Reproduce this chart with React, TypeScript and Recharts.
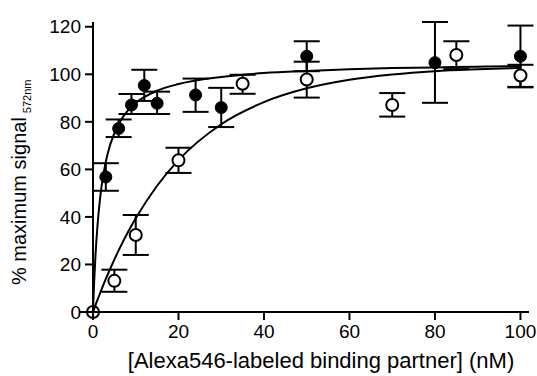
import React from "react";
import {
  ComposedChart,
  Line,
  Scatter,
  XAxis,
  YAxis,
  ErrorBar,
  Label,
} from "recharts";

// Measured points: filled circles
const concFilled = [3, 6, 9, 12, 15, 24, 30, 50, 80, 100];
const signalFilled = [56.8, 77.2, 87.1, 95.3, 87.8, 91.3, 86.0, 107.6, 104.9, 107.6];
const lowFilled = [51.0, 73.6, 83.3, 88.8, 83.3, 84.2, 77.8, 101.3, 88.0, 94.7];
const highFilled = [62.6, 81.0, 91.7, 101.9, 92.7, 98.2, 94.3, 113.9, 122.0, 120.5];

// Measured points: open circles
const concOpen = [0, 5, 10, 20, 35, 50, 70, 85, 100];
const signalOpen = [0, 13.1, 32.4, 63.8, 96.0, 97.8, 87.1, 108.1, 99.5];
const lowOpen = [0, 8.5, 24.0, 58.5, 91.8, 90.2, 82.2, 102.2, 94.5];
const highOpen = [0, 17.8, 40.8, 69.1, 99.8, 105.3, 92.1, 113.9, 104.0];

// Fitted curves
const curveConc = [0, 0.25, 0.5, 1, 1.5, 2, 3, 4, 6, 8, 10, 15, 20, 30, 40, 50, 60, 70, 80, 90, 100];
const fitFilled = [0, 11.7, 21.1, 35.2, 45.2, 52.8, 63.3, 70.3, 79.1, 84.4, 87.9, 93.1, 95.9, 98.9, 100.5, 101.4, 102.1, 102.6, 102.9, 103.2, 103.4];
const fitOpen = [0, 1.2, 2.5, 4.9, 7.2, 9.5, 13.9, 18.1, 25.9, 33.0, 39.4, 53.1, 63.9, 79.0, 88.3, 94.1, 97.7, 99.9, 101.3, 102.1, 102.7];

const xTicks = [0, 20, 40, 60, 80, 100];
const yTicks = [0, 20, 40, 60, 80, 100, 120];

const FONT = "'Liberation Sans', Arial, Helvetica, sans-serif";

const filledData = concFilled.map((x, i) => ({
  x,
  y: signalFilled[i],
  err: [signalFilled[i] - lowFilled[i], highFilled[i] - signalFilled[i]],
}));
const openData = concOpen.map((x, i) => ({
  x,
  y: signalOpen[i],
  err: [signalOpen[i] - lowOpen[i], highOpen[i] - signalOpen[i]],
}));
const fitFilledData = curveConc.map((x, i) => ({ x, y: fitFilled[i] }));
const fitOpenData = curveConc.map((x, i) => ({ x, y: fitOpen[i] }));

const FilledDot = (props: any) => {
  const { cx, cy } = props;
  return <circle cx={cx} cy={cy} r={6} fill="#000" stroke="#000" strokeWidth={1} />;
};
const OpenDot = (props: any) => {
  const { cx, cy, payload } = props;
  const atOrigin = payload && payload.x === 0;
  return <circle cx={cx} cy={cy} r={6} fill={atOrigin ? "none" : "#fff"} stroke="#000" strokeWidth={2} />;
};

const XTitle = () => (
  <text x={321} y={368} textAnchor="middle" fontSize={22} fontFamily={FONT} fill="#000">
    [Alexa546-labeled binding partner] (nM)
  </text>
);

const YTitle = () => (
  <text transform="translate(26,285) rotate(-90)" x={0} y={0} textAnchor="start" fontFamily={FONT} fill="#000">
    <tspan fontSize={20}>% maximum signal</tspan>
    <tspan fontSize={11} dx={4} dy={5}>572nm</tspan>
  </text>
);

export default function App() {
  return (
    <div style={{ position: "absolute", left: 0, top: 0, background: "#fff" }}>
      <ComposedChart
        width={537}
        height={376}
        margin={{ top: 22, right: 8, bottom: 34, left: 0 }}
      >
        <XAxis
          type="number"
          dataKey="x"
          domain={[0, 102]}
          ticks={xTicks}
          height={30}
          tickSize={8}
          tickMargin={5}
          axisLine={{ stroke: "#000", strokeWidth: 2 }}
          tickLine={{ stroke: "#000", strokeWidth: 2 }}
          tick={{ fill: "#000", fontSize: 19, fontFamily: FONT }}
        >
          <Label content={<XTitle />} />
        </XAxis>
        <YAxis
          type="number"
          dataKey="y"
          domain={[0, 120]}
          ticks={yTicks}
          width={93}
          tickSize={8}
          tickMargin={4}
          axisLine={{ stroke: "#000", strokeWidth: 2 }}
          tickLine={{ stroke: "#000", strokeWidth: 2 }}
          tick={{ fill: "#000", fontSize: 19, fontFamily: FONT }}
        >
          <Label content={<YTitle />} />
        </YAxis>
        <Line
          data={fitFilledData}
          dataKey="y"
          type="monotone"
          stroke="#000"
          strokeWidth={2}
          dot={false}
          activeDot={false}
          isAnimationActive={false}
        />
        <Line
          data={fitOpenData}
          dataKey="y"
          type="monotone"
          stroke="#000"
          strokeWidth={2}
          dot={false}
          activeDot={false}
          isAnimationActive={false}
        />
        <Scatter data={filledData} dataKey="y" shape={<FilledDot />} isAnimationActive={false}>
          <ErrorBar dataKey="err" direction="y" width={13} stroke="#000" strokeWidth={2} />
        </Scatter>
        <Scatter data={openData} dataKey="y" shape={<OpenDot />} isAnimationActive={false}>
          <ErrorBar dataKey="err" direction="y" width={13} stroke="#000" strokeWidth={2} />
        </Scatter>
      </ComposedChart>
    </div>
  );
}
